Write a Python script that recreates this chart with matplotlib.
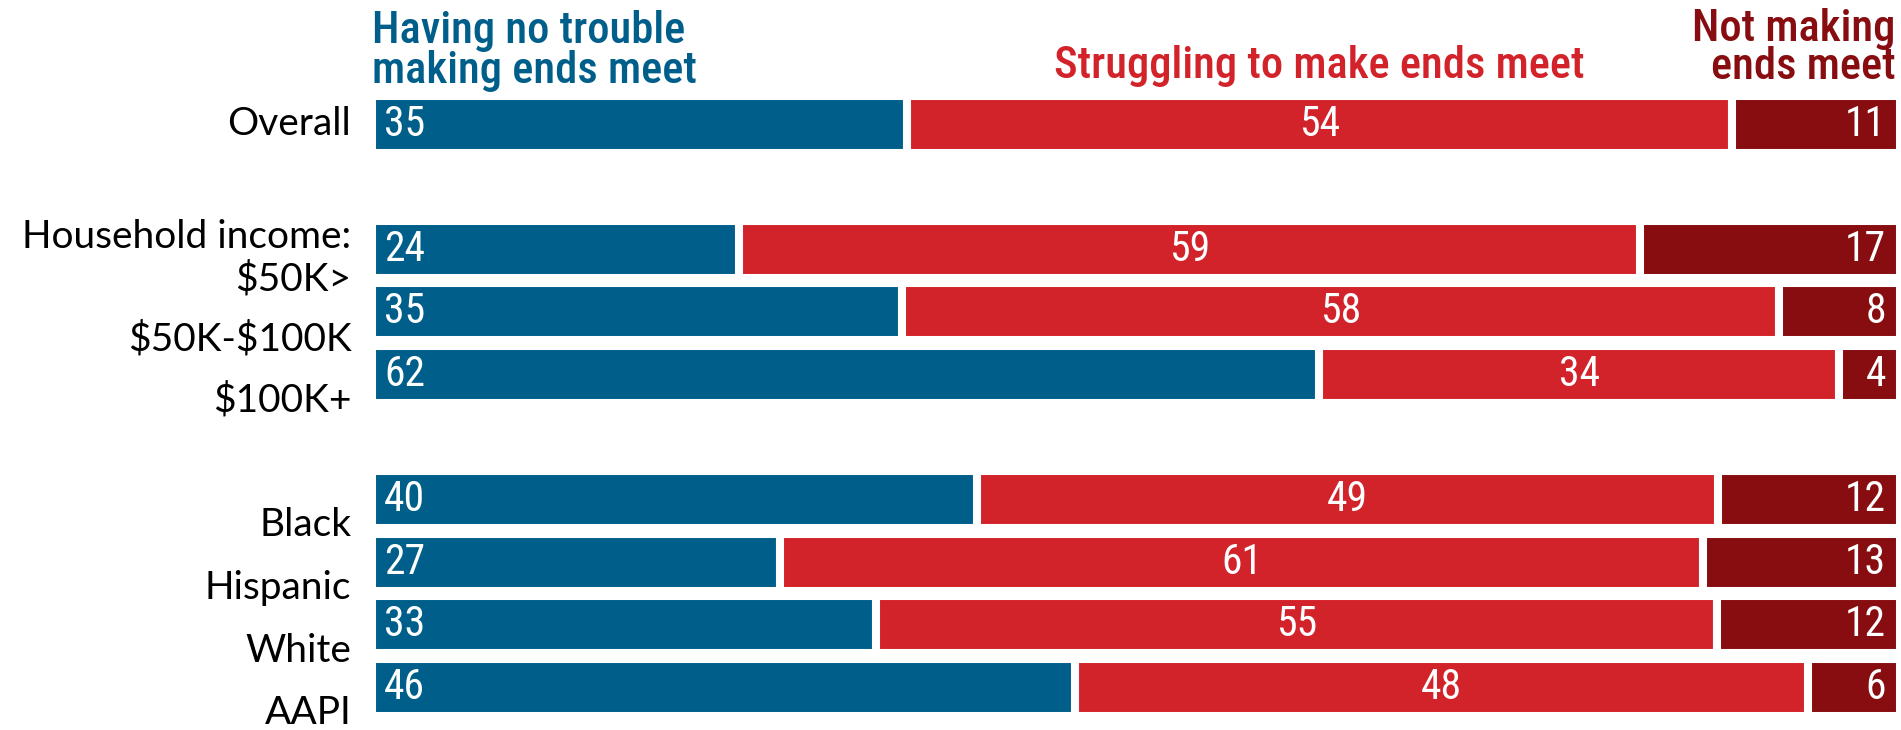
import numpy as np
import matplotlib
matplotlib.use("Agg")
import matplotlib.pyplot as plt

plt.rcParams["text.parse_math"] = False

# Survey shares (%) by group
groups = ["Overall", "$50K>", "$50K-$100K", "$100K+", "Black", "Hispanic", "White", "AAPI"]
no_trouble = [35, 24, 35, 62, 40, 27, 33, 46]
struggling = [54, 59, 58, 34, 49, 61, 55, 48]
not_making = [11, 17, 8, 4, 12, 13, 12, 6]

# row slots, with an empty slot between the blocks
rows = [0, 2, 3, 4, 6, 7, 8, 9]

BLUE = "#005F8A"
RED = "#D2232A"
DARK = "#870D10"

COND = ["Roboto Condensed", "DejaVu Sans"]
LABEL = ["Lato", "DejaVu Sans"]

fig = plt.figure(figsize=(19.01, 7.30), dpi=100)
ax = fig.add_axes([372 / 1901, 0.0153, 1528 / 1901, 0.8575])

vals = np.array([no_trouble, struggling, not_making], dtype=float)
shares = vals / vals.sum(axis=0) * 100
left = np.zeros(len(groups))
for share, color in zip(shares, [BLUE, RED, DARK]):
    ax.barh(rows, share, left=left, height=0.91, color=color,
            edgecolor="white", linewidth=5.8)
    left += share

# value labels inside the bars
num = dict(color="white", fontsize=30, family=COND, va="center")
for i, y in enumerate(rows):
    ax.text(0.8, y, str(no_trouble[i]), ha="left", **num)
    ax.text(shares[0][i] + shares[1][i] / 2, y, str(struggling[i]), ha="center", **num)
    ax.text(99.1, y, str(not_making[i]), ha="right", **num)

# row labels, set a little below their bars
label_y = [0, 2.47, 3.44, 4.41, 6.41, 7.41, 8.42, 9.41]
for name, y in zip(groups, label_y):
    ax.text(-1.35, y, name, fontsize=28, family=LABEL, ha="right", va="center",
            clip_on=False)
ax.text(-1.35, 1.8, "Household income:", fontsize=28, family=LABEL, ha="right",
        va="center", clip_on=False)

# column headers
hdr = dict(fontsize=32, family=COND, fontweight="medium", va="baseline", clip_on=False)
ax.text(0.0, -1.30, "Having no trouble", color=BLUE, ha="left", **hdr)
ax.text(0.0, -0.66, "making ends meet", color=BLUE, ha="left", **hdr)
ax.text(shares[0][0] + shares[1][0] / 2, -0.74, "Struggling to make ends meet",
        color=RED, ha="center", **hdr)
ax.text(99.7, -1.33, "Not making", color=DARK, ha="right", **hdr)
ax.text(99.7, -0.72, "ends meet", color=DARK, ha="right", **hdr)

ax.set_xlim(0, 100)
ax.set_ylim(9.5, -0.5)
ax.axis("off")

fig.savefig("out.png", dpi=100)
